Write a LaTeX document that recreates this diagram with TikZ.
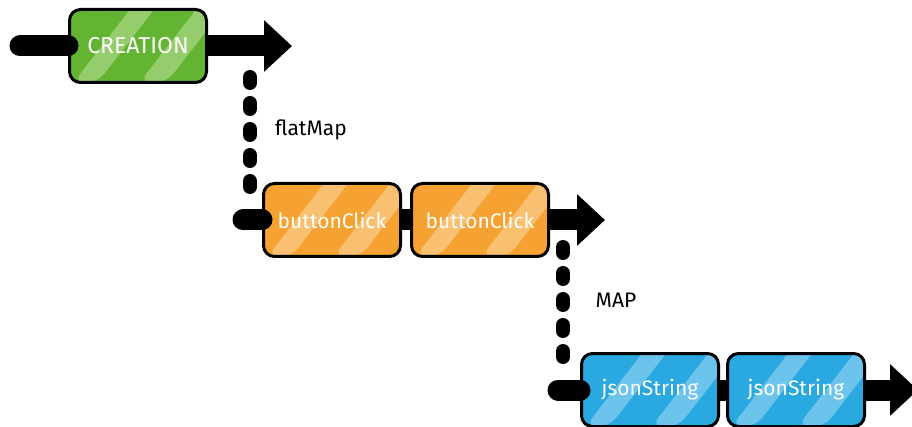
\documentclass[tikz,border=0pt]{standalone}
\usepackage{fontspec}
\setmainfont{Fira Sans}
\usepackage{tikz}
\usetikzlibrary{arrows.meta}
\definecolor{creationgreen}{RGB}{100,180,52}
\definecolor{creationlight}{RGB}{150,205,108}
\definecolor{clickorange}{RGB}{245,162,50}
\definecolor{clicklight}{RGB}{248,192,112}
\definecolor{jsonblue}{RGB}{42,168,224}
\definecolor{jsonlight}{RGB}{108,196,236}

\tikzset{
    event/.style={draw=black, line width=3pt, rounded corners=11pt,
        minimum width=137pt, minimum height=73pt, inner sep=0pt,
        text=white, font=\fontsize{21}{24}\selectfont},
    stripes/.style={path picture={
        \foreach \o/\w in {4/24, 70/27}
            \fill[#1] ([xshift=\o pt]path picture bounding box.south west)
                -- ++(\w pt,0) -- ++(62pt,80pt) -- ++(-\w pt,0) -- cycle;
    }},
    stream/.style={line width=21pt},
    flow/.style={stream, -{Triangle[length=28pt,width=50pt]}},
    hop/.style={line width=14pt, line cap=round, dash pattern=on 6pt off 20pt},
    tag/.style={font=\fontsize{21}{24}\selectfont, text=black}
}

\begin{document}
\begin{tikzpicture}[x=1pt, y=-1pt]
    \useasboundingbox (0,0) rectangle (912,427);
    \clip (0,0) rectangle (912,427);

    % Row 1
    \coordinate (srcA) at (20,46);
    \coordinate (tipA) at (292,46);
    \node[event, fill=creationgreen, stripes=creationlight,
        font=\fontsize{23}{26}\selectfont] (creation) at (138,46) {CREATION};
    \draw[stream, line cap=round] (srcA) -- (creation);
    \draw[flow] (creation) -- (tipA);

    % flatMap
    \coordinate (forkA) at (250,77);
    \coordinate (joinA) at (250,196);
    \draw[hop] (forkA) -- (joinA);
    \node[tag] (flatmap) at (311,130) {flatMap};

    % Row 2
    \coordinate (srcB) at (243,220);
    \coordinate (tipB) at (605,220);
    \node[event, fill=clickorange, stripes=clicklight] (click1) at (332,220) {buttonClick};
    \node[event, fill=clickorange, stripes=clicklight] (click2) at (480,220) {buttonClick};
    \draw[stream, line cap=round] (srcB) -- (click1);
    \draw[stream] (click1) -- (click2);
    \draw[flow] (click2) -- (tipB);

    % map
    \coordinate (forkB) at (563,247);
    \coordinate (joinB) at (563,366);
    \draw[hop] (forkB) -- (joinB);
    \node[tag] (map) at (616,300) {MAP};

    % Row 3
    \coordinate (srcC) at (558,390);
    \coordinate (tipC) at (918,390);
    \node[event, fill=jsonblue, stripes=jsonlight] (json1) at (650,390) {jsonString};
    \node[event, fill=jsonblue, stripes=jsonlight] (json2) at (796,390) {jsonString};
    \draw[stream, line cap=round] (srcC) -- (json1);
    \draw[stream] (json1) -- (json2);
    \draw[flow] (json2) -- (tipC);
\end{tikzpicture}
\end{document}
